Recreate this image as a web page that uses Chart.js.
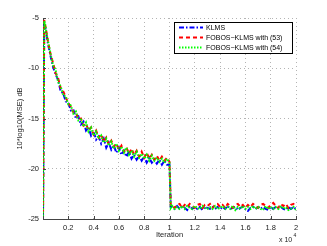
<!DOCTYPE html>
<html>
<head>
<meta charset="utf-8">
<script src="https://cdn.jsdelivr.net/npm/chart.js@4/dist/chart.umd.min.js"></script>
<style>
  html, body { margin: 0; padding: 0; background: #fff; }
  #wrap { width: 327px; height: 246px; }
</style>
</head>
<body>
<div id="wrap"><canvas id="mse"></canvas></div>
<script>
// MSE learning curves, KLMS vs FOBOS-KLMS

const iterations = [
  0, 100, 200, 300, 400, 600, 800,
  1000, 1200, 1400, 1600, 1800, 2000, 2200, 2400, 2600, 2800,
  3000, 3200, 3400, 3600, 3800, 4000, 4200, 4400, 4600, 4800,
  5000, 5200, 5400, 5600, 5800, 6000, 6200, 6400, 6600, 6800,
  7000, 7200, 7400, 7600, 7800, 8000, 8200, 8400, 8600, 8800,
  9000, 9200, 9400, 9600, 9800, 10000, 10100,
  10200, 10400, 10600, 10800, 11000, 11200, 11400, 11600, 11800, 12000,
  12200, 12400, 12600, 12800, 13000, 13200, 13400, 13600, 13800, 14000,
  14200, 14400, 14600, 14800, 15000, 15200, 15400, 15600, 15800, 16000,
  16200, 16400, 16600, 16800, 17000, 17200, 17400, 17600, 17800, 18000,
  18200, 18400, 18600, 18800, 19000, 19200, 19400, 19600, 19800, 20000
];

const klms = [
  -25, -5.4, -6.1, -6.8, -7.6, -8.8, -9.9,
  -10.6, -11.2, -12.3, -12.5, -13.3, -13.4, -14.2, -14.1, -15.0, -14.8,
  -15.6, -15.3, -16.2, -15.9, -16.7, -16.3, -17.1, -16.8, -17.5, -17.0,
  -17.9, -17.4, -18.1, -17.7, -18.4, -17.9, -18.6, -18.2, -18.8, -18.3,
  -19.0, -18.6, -19.1, -18.7, -19.2, -18.8, -19.4, -18.9, -19.4, -19.1,
  -19.5, -19.1, -19.6, -19.2, -19.6, -19.6, -23.8,
  -23.8, -24.0, -23.7, -24.0, -23.8, -23.9, -24.1, -23.7, -24.0, -23.8,
  -24.0, -23.8, -24.1, -23.8, -23.9, -24.0, -23.8, -24.0, -23.8, -24.0,
  -23.8, -24.0, -23.7, -24.0, -23.9, -23.8, -24.1, -23.9, -23.8, -24.0,
  -24.2, -23.9, -23.8, -24.0, -23.8, -24.0, -23.8, -24.0, -24.1, -23.8,
  -24.0, -23.8, -23.9, -23.8, -24.0, -24.1, -23.8, -24.0, -23.8, -24.0
];

const fobos53 = [
  -25, -5.2, -5.9, -6.6, -7.4, -8.6, -9.5,
  -10.5, -11.0, -12.0, -12.3, -12.9, -13.5, -13.8, -14.4, -14.4, -15.1,
  -15.0, -15.7, -15.5, -16.2, -15.9, -16.6, -16.2, -16.9, -16.6, -17.3,
  -16.9, -17.6, -17.2, -17.8, -17.5, -18.1, -17.7, -18.3, -17.9, -18.5,
  -18.0, -18.6, -18.2, -18.8, -18.3, -18.9, -18.4, -19.0, -18.6, -19.1,
  -18.7, -19.2, -18.8, -19.2, -18.9, -19.3, -23.6,
  -23.6, -23.9, -23.6, -23.5, -23.9, -23.6, -23.8, -23.5, -23.7, -23.9,
  -23.6, -23.5, -23.9, -23.6, -23.7, -23.5, -23.9, -23.6, -23.5, -23.8,
  -23.6, -23.9, -23.5, -23.7, -23.9, -23.6, -23.5, -23.8, -23.6, -23.9,
  -23.6, -23.8, -23.5, -23.7, -23.9, -23.6, -23.5, -23.7, -23.9, -23.6,
  -23.4, -23.7, -23.9, -23.5, -23.7, -23.5, -23.9, -23.6, -23.5, -23.8
];

const fobos54 = [
  -25, -5.3, -5.8, -6.7, -7.3, -8.6, -9.7,
  -10.2, -11.4, -11.8, -12.7, -12.8, -13.6, -13.7, -14.5, -14.3, -15.2,
  -15.1, -15.8, -15.4, -16.3, -15.9, -16.7, -16.3, -17.0, -16.7, -17.4,
  -17.0, -17.7, -17.3, -18.0, -17.5, -18.2, -17.8, -18.4, -17.9, -18.6,
  -18.2, -18.8, -18.3, -18.9, -18.5, -19.0, -18.6, -19.2, -18.7, -19.2,
  -18.9, -19.3, -19.0, -19.4, -19.0, -19.4, -23.9,
  -23.7, -24.0, -23.8, -24.0, -23.7, -24.0, -23.7, -23.9, -24.0, -23.7,
  -23.9, -24.0, -23.7, -23.9, -24.0, -23.8, -24.0, -23.7, -24.0, -23.9,
  -23.7, -24.0, -23.8, -24.0, -23.7, -24.1, -23.8, -24.0, -23.7, -24.0,
  -23.8, -24.0, -23.7, -24.0, -23.8, -24.0, -24.1, -23.7, -24.0, -23.8,
  -24.0, -23.8, -24.0, -23.7, -24.0, -23.8, -24.1, -24.0, -23.8, -24.1
];

const seriesNames = ['KLMS', 'FOBOS\u2212KLMS with (53)', 'FOBOS\u2212KLMS with (54)'];
const yTicks = [-25, -20, -15, -10, -5];

const FONT = '"Liberation Sans", Helvetica, Arial, sans-serif';
const toPoints = ys => ys.map((y, i) => ({ x: iterations[i], y }));

// matlab-ish legend box inside the axes + x10^4 multiplier
const matlabExtras = {
  id: 'matlabExtras',
  afterDraw(chart) {
    const ctx = chart.ctx;
    const area = chart.chartArea;
    const xs = chart.scales.x, ys = chart.scales.y;
    ctx.save();

    // inward tick marks
    ctx.strokeStyle = '#444';
    ctx.lineWidth = 1;
    ctx.beginPath();
    xs.ticks.forEach(t => {
      const px = Math.round(xs.getPixelForValue(t.value)) + 0.5;
      ctx.moveTo(px, area.bottom); ctx.lineTo(px, area.bottom - 3);
    });
    yTicks.forEach(v => {
      const py = Math.round(ys.getPixelForValue(v)) + 0.5;
      ctx.moveTo(area.left, py); ctx.lineTo(area.left + 3, py);
    });
    ctx.stroke();

    // legend
    const bx = 174.5, by = 22.5, bw = 118, bh = 31;
    ctx.fillStyle = '#fff';
    ctx.fillRect(bx, by, bw, bh);
    ctx.strokeStyle = '#000';
    ctx.lineWidth = 1;
    ctx.strokeRect(bx, by, bw, bh);
    ctx.font = '7px ' + FONT;
    ctx.textBaseline = 'middle';
    chart.data.datasets.forEach((ds, i) => {
      const ly = 27.5 + i * 10;
      ctx.strokeStyle = ds.borderColor;
      ctx.lineWidth = ds.borderWidth;
      ctx.setLineDash(ds.borderDash);
      ctx.beginPath();
      ctx.moveTo(179, ly); ctx.lineTo(203, ly);
      ctx.stroke();
      ctx.setLineDash([]);
      ctx.fillStyle = '#000';
      ctx.fillText(ds.label, 206, ly + 0.5);
    });

    // exponent label
    ctx.fillStyle = '#222';
    ctx.font = '7px ' + FONT;
    ctx.textBaseline = 'alphabetic';
    ctx.fillText('x 10', 279, 242);
    ctx.font = '5px ' + FONT;
    ctx.fillText('4', 293.5, 237);
    ctx.restore();
  }
};

new Chart(document.getElementById('mse'), {
  type: 'line',
  data: {
    datasets: [
      {
        label: seriesNames[0],
        data: toPoints(klms),
        borderColor: '#0000ff',
        borderWidth: 2,
        borderDash: [5, 2, 1.5, 2],
        order: 2,
      },
      {
        label: seriesNames[1],
        data: toPoints(fobos53),
        borderColor: '#ff0000',
        borderWidth: 2,
        borderDash: [4, 3],
        order: 1,
      },
      {
        label: seriesNames[2],
        data: toPoints(fobos54),
        borderColor: '#00ff00',
        borderWidth: 2,
        borderDash: [1.5, 1.5],
        order: 0,
      },
    ],
  },
  options: {
    responsive: true,
    maintainAspectRatio: false,
    animation: false,
    devicePixelRatio: 1,
    elements: { point: { radius: 0 }, line: { tension: 0 } },
    layout: { padding: { left: 0, right: 31, top: 18, bottom: 0 } },
    plugins: { legend: { display: false }, tooltip: { enabled: false } },
    scales: {
      x: {
        type: 'linear',
        min: 0,
        max: 20000,
        afterFit: s => { s.height = 27; },
        border: { display: true, color: '#444', width: 1, dash: [1, 3] },
        grid: { color: '#b4b4b4', drawTicks: false, lineWidth: 1 },
        ticks: {
          stepSize: 2000,
          padding: 4,
          color: '#222',
          font: { size: 7.5, family: FONT },
          maxRotation: 0,
          autoSkip: false,
          callback: v => (v === 0 ? '' : String(+(v / 10000).toFixed(1))),
        },
        title: {
          display: true,
          text: 'Iteration',
          color: '#222',
          font: { size: 7.5, family: FONT },
          padding: { top: 0, bottom: 7 },
        },
      },
      y: {
        min: -25,
        max: -5,
        afterFit: s => { s.width = 43; },
        border: { display: true, color: '#444', width: 1, dash: [1, 3] },
        grid: { color: '#b4b4b4', drawTicks: false, lineWidth: 1 },
        afterBuildTicks: s => { s.ticks = yTicks.map(v => ({ value: v })); },
        ticks: {
          padding: 4,
          color: '#222',
          font: { size: 7.5, family: FONT },
        },
        title: {
          display: true,
          text: '10*log10(MSE) dB',
          color: '#222',
          font: { size: 7.5, family: FONT },
          padding: { top: 15, bottom: 0 },
        },
      },
    },
  },
  plugins: [matlabExtras],
});
</script>
</body>
</html>
